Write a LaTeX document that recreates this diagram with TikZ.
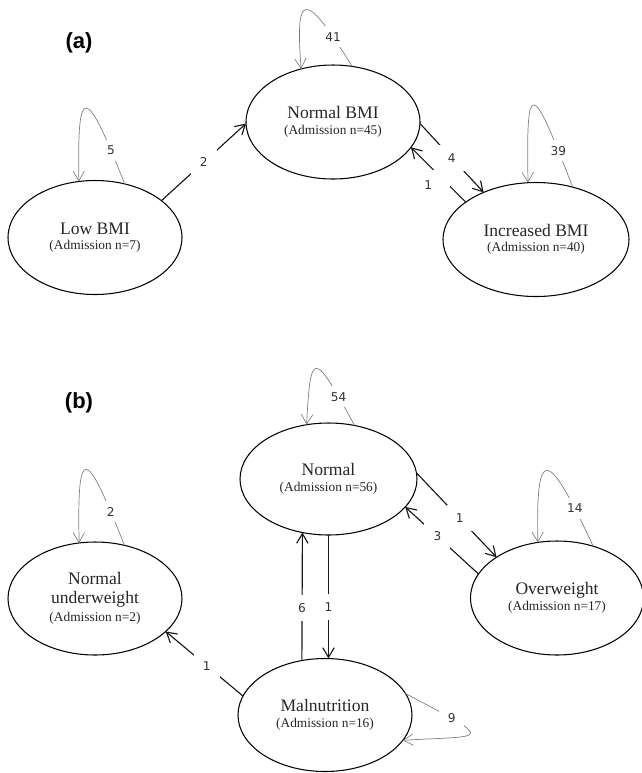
\documentclass[tikz,border=0pt]{standalone}
\usepackage{fontspec}
\setmainfont{Liberation Serif}
\newfontfamily\numfont{DejaVu Sans}
\newfontfamily\panelfont{Liberation Sans}
\usetikzlibrary{shapes.geometric,arrows.meta}

\newcommand{\adm}[1]{{\fontsize{7.6}{8}\selectfont (Admission n=#1)}}

\begin{document}
\begin{tikzpicture}[
    state/.style={ellipse, draw, line width=0.6pt, minimum width=3.48cm, minimum height=2.28cm, inner sep=0pt, outer sep=0pt, align=center, text=black!85, font=\fontsize{10}{8.8}\selectfont},
    trans/.style={-{Straight Barb[length=5.5pt,width=6.5pt]}, line width=0.65pt, black!90},
    selfloop/.style={-{Straight Barb[length=5.5pt,width=6.5pt]}, line width=0.4pt, gray},
    num/.style={font=\numfont\fontsize{6.9}{8}\selectfont, text=black!80, fill=white, inner sep=0pt, minimum size=0.52cm},
    loopnum/.style={num, minimum size=0.42cm},
    panel/.style={font=\panelfont\bfseries\fontsize{12.5}{14}\selectfont}
]
\useasboundingbox (0,0) rectangle (12.84,-15.46);

% Panel labels
\node[panel] (pa) at (1.58, -0.86) {(a)};
\node[panel] (pb) at (1.58, -8.06) {(b)};

% Nodes (a)
\node[state] (lowbmi)  at (1.90,  -4.75) {Low BMI\\\adm{7}};
\node[state] (normbmi) at (6.66,  -2.44) {Normal BMI\\\adm{45}};
\node[state, minimum width=3.72cm] (incbmi) at (10.72, -4.79) {Increased BMI\\\adm{40}};

% Nodes (b)
\node[state, minimum width=3.54cm, minimum height=2.24cm] (normal) at (6.57, -9.58) {Normal\\\adm{56}};
\node[state, minimum height=2.26cm] (underw) at (1.90, -11.97) {Normal\\[2pt]underweight\\[1.4pt]\adm{2}};
\node[state, minimum width=3.46cm] (overw)  at (11.14, -11.96) {Overweight\\\adm{17}};
\node[state, minimum height=2.26cm] (malnut) at (6.50, -14.30) {Malnutrition\\\adm{16}};

% Arrows (a)
\draw[trans] (lowbmi.29)  -- node[num] {2} (normbmi.181);
\draw[trans] (normbmi.-1) -- node[num] {4} (incbmi.138);
\draw[trans] (incbmi.152) -- node[num, pos=0.44, minimum size=0.34cm] {}
                             node[num, pos=0.44, fill=none, xshift=-0.27cm, yshift=-0.14cm] {1} (normbmi.-18);

% Arrows (b)
\draw[trans] (malnut.113) -- node[num, pos=0.41] {6} (normal.244);
\draw[trans] (normal.south) -- node[num, pos=0.585] {1} (normal.south |- malnut.north);
\draw[trans] (malnut.167) -- node[num, pos=0.47] {1} (underw.-25);
\draw[trans] (normal.4)   -- node[num, pos=0.54] {1} (overw.146);
\draw[trans] (overw.163)  -- node[num, pos=0.56] {3} (normal.-20);

% Self loops
\draw[selfloop] (lowbmi.61)  .. controls +(-0.78,1.98) and +(-0.04,2.00) .. node[loopnum, pos=0.13] {5}  (lowbmi.106);
\draw[selfloop] (normbmi.71) .. controls +(-0.96,1.55) and +(-0.12,1.55) .. node[loopnum, pos=0.15] {41} (normbmi.121);
\draw[selfloop] (incbmi.55)  .. controls +(-0.82,2.13) and +(-0.04,2.13) .. node[loopnum, pos=0.13] {39} (incbmi.98);
\draw[selfloop] (normal.64)  .. controls +(-0.82,1.50) and +(0.08,1.52)  .. node[loopnum, pos=0.15] {54} (normal.112);
\draw[selfloop] (underw.61)  .. controls +(-0.78,1.98) and +(-0.04,2.00) .. node[loopnum, pos=0.13] {2}  (underw.106);
\draw[selfloop] (overw.55)   .. controls +(-0.92,1.97) and +(-0.04,1.97) .. node[loopnum, pos=0.15] {14} (overw.109);
\draw[selfloop] (malnut.15)  .. controls +(1.84,-0.98) and +(1.70,0.10)  .. node[loopnum, pos=0.22, minimum size=0.5cm] {9} (malnut.-18);

\end{tikzpicture}
\end{document}
